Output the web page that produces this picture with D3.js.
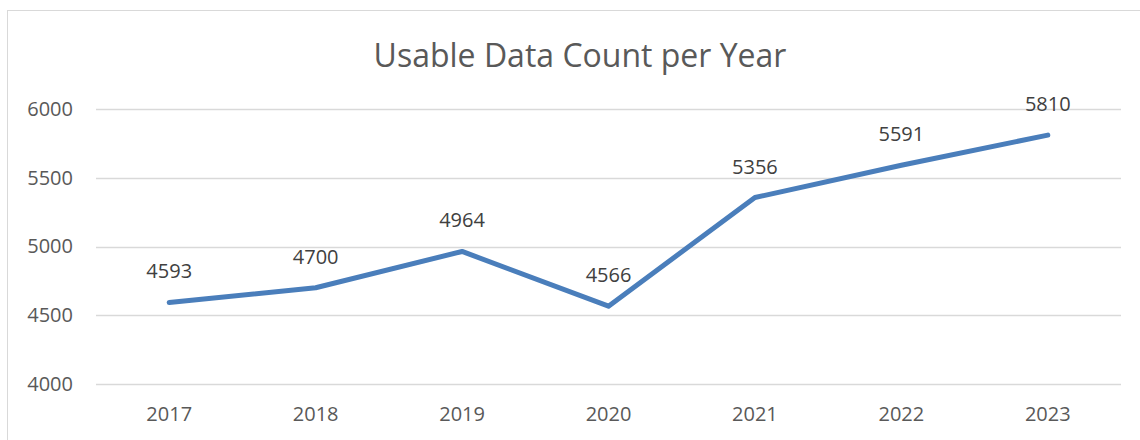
<!DOCTYPE html>
<html>
<head>
<script src="https://d3js.org/d3.v7.min.js"></script>
<style>
  body { margin: 0; background: #fff; }
  text { font-family: "Open Sans", sans-serif; }
</style>
</head>
<body>
<div id="container"></div>
<script>
// data
const years = ["2017", "2018", "2019", "2020", "2021", "2022", "2023"];
const counts = [4593, 4700, 4964, 4566, 5356, 5591, 5810];
const yTicks = [4000, 4500, 5000, 5500, 6000];
const title = "Usable Data Count per Year";

const W = 1140, H = 440;
const plot = {left: 96, right: 1121, top: 109, bottom: 384};

const svg = d3.select("#container").append("svg")
    .attr("width", W)
    .attr("height", H);

// chart area border (runs off the right and bottom edges)
svg.append("rect")
    .attr("x", 7.5).attr("y", 10.5)
    .attr("width", W + 20).attr("height", H + 20)
    .attr("fill", "#fff")
    .attr("stroke", "#d9d9d9");

const x = d3.scaleBand().domain(years).range([plot.left, plot.right]);
const y = d3.scaleLinear().domain([4000, 6000]).range([plot.bottom, plot.top]);

// gridlines
svg.append("g")
  .selectAll("line")
  .data(yTicks)
  .join("line")
    .attr("x1", plot.left).attr("x2", plot.right)
    .attr("y1", d => Math.round(y(d)) + 0.5)
    .attr("y2", d => Math.round(y(d)) + 0.5)
    .attr("stroke", "#d9d9d9")
    .attr("stroke-width", 1.3);

// y axis labels
const yAxis = svg.append("g")
    .attr("transform", "translate(" + (plot.left - 23) + ",0)")
    .call(d3.axisLeft(y).tickValues(yTicks).tickFormat(d3.format("d")).tickSize(0).tickPadding(0));
yAxis.select(".domain").remove();
yAxis.selectAll("text")
    .attr("fill", "#595959")
    .style("font-family", "'Open Sans', sans-serif")
    .style("font-size", "20px");

// x axis labels
const xAxis = svg.append("g")
    .attr("transform", "translate(0," + (plot.bottom + 23) + ")")
    .call(d3.axisBottom(x).tickSize(0).tickPadding(0));
xAxis.select(".domain").remove();
xAxis.selectAll("text")
    .attr("fill", "#595959")
    .style("font-family", "'Open Sans', sans-serif")
    .style("font-size", "20px");

// title
svg.append("text")
    .attr("x", 580).attr("y", 67)
    .attr("text-anchor", "middle")
    .attr("fill", "#595959")
    .style("font-size", "32px")
    .text(title);

// line
const line = d3.line()
    .x((d, i) => x(years[i]) + x.bandwidth() / 2)
    .y(d => y(d));

svg.append("path")
    .datum(counts)
    .attr("d", line)
    .attr("fill", "none")
    .attr("stroke", "#4a7ebb")
    .attr("stroke-width", 5)
    .attr("stroke-linecap", "round")
    .attr("stroke-linejoin", "round");

// data labels
svg.append("g")
  .selectAll("text")
  .data(counts)
  .join("text")
    .attr("x", (d, i) => x(years[i]) + x.bandwidth() / 2)
    .attr("y", d => y(d) - 24)
    .attr("text-anchor", "middle")
    .attr("fill", "#404040")
    .style("font-size", "20px")
    .text(d => d);
</script>
</body>
</html>
